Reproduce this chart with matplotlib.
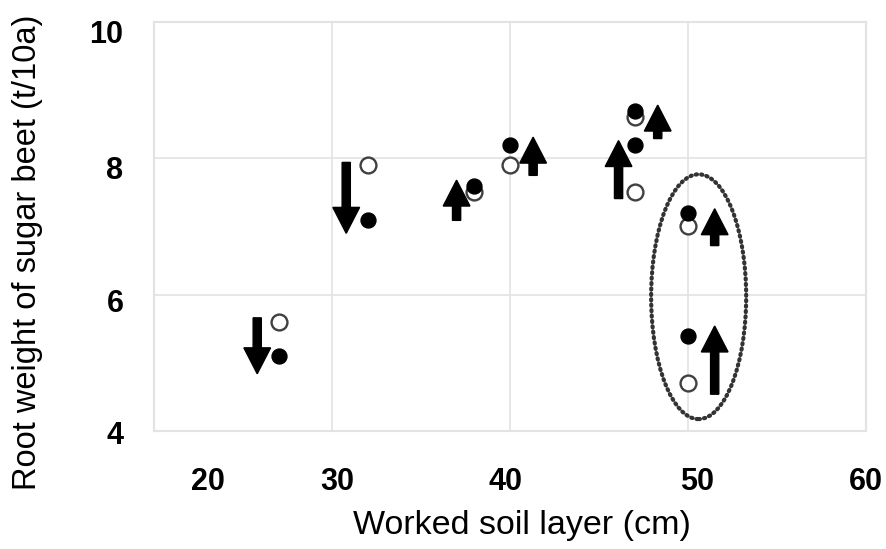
import matplotlib
matplotlib.use("Agg")
import matplotlib.pyplot as plt
from matplotlib.patches import Ellipse
from matplotlib.transforms import ScaledTranslation

# worked soil layer (cm) and root weight (t/10a)
open_x = [27, 32, 38, 40, 47, 47, 50, 50]
open_y = [5.6, 7.9, 7.5, 7.9, 8.6, 7.5, 7.0, 4.7]
filled_x = [27, 32, 38, 40, 47, 47, 50, 50]
filled_y = [5.1, 7.1, 7.6, 8.2, 8.7, 8.2, 7.2, 5.4]

# arrows: x position, tail y, tip y
arrow_x = [25.8, 30.8, 37.0, 41.3, 46.1, 48.3, 51.5, 51.5]
arrow_tail = [5.66, 7.94, 7.09, 7.75, 7.41, 8.29, 6.72, 4.54]
arrow_tip = [4.84, 6.90, 7.68, 8.31, 8.26, 8.78, 7.26, 5.54]

# highlighted group
ell_center = (50.6, 5.97)
ell_w, ell_h = 5.34, 3.59

xticks = [20, 30, 40, 50, 60]
yticks = [4, 6, 8, 10]

fam = ["Liberation Sans", "DejaVu Sans"]

fig = plt.figure(figsize=(8.86, 5.49), dpi=100)
ax = fig.add_axes([0.1738, 0.2149, 0.8036, 0.7451])

ax.set_xlim(20, 60)
ax.set_ylim(4, 10)
ax.set_xticks(xticks)
ax.set_yticks(yticks)
ax.grid(True, color="#e3e3e3", linewidth=1.2)
ax.set_axisbelow(True)
for s in ax.spines.values():
    s.set_color("#e3e3e3")
    s.set_linewidth(1.5)
ax.tick_params(length=0, pad=22)
ax.tick_params(axis="x", pad=26)

for lbl in ax.get_xticklabels() + ax.get_yticklabels():
    lbl.set_fontfamily(fam)
    lbl.set_fontweight("bold")
    lbl.set_fontsize(22)

# the reference labels sit a little off the grid lines
x_shift = [54, 5, -4, 9, 0]
for lbl, dx in zip(ax.get_xticklabels(), x_shift):
    lbl.set_transform(lbl.get_transform() + ScaledTranslation(dx / 100, 0, fig.dpi_scale_trans))
y_shift = [-1, -6, -9, -10]
for lbl, dy in zip(ax.get_yticklabels(), y_shift):
    lbl.set_transform(lbl.get_transform() + ScaledTranslation(0, dy / 100, fig.dpi_scale_trans))

ax.scatter(open_x, open_y, s=130, facecolor="white", edgecolor="#404040", linewidth=1.7, zorder=3)
ax.scatter(filled_x, filled_y, s=115, color="black", zorder=4)

for x, y0, y1 in zip(arrow_x, arrow_tail, arrow_tip):
    ax.arrow(x, y0, 0, y1 - y0, width=0.46, head_width=1.5, head_length=0.38,
             length_includes_head=True, color="black", zorder=5)

ax.add_patch(Ellipse(ell_center, ell_w, ell_h, fill=False, edgecolor="#333333",
                     linewidth=3.0, linestyle=(0, (0.3, 1.0)), capstyle="round", zorder=2))

ax.set_xlabel("Worked soil layer (cm)", fontfamily=fam, fontsize=24.5)
ax.set_ylabel("Root weight of sugar beet (t/10a)", fontfamily=fam, fontsize=23.5)
ax.xaxis.label.set_verticalalignment("center")
ax.yaxis.label.set_verticalalignment("center")
ax.xaxis.set_label_coords(0.517, -0.23)
ax.yaxis.set_label_coords(-0.177, 0.438)

plt.savefig("out.png", dpi=100)
